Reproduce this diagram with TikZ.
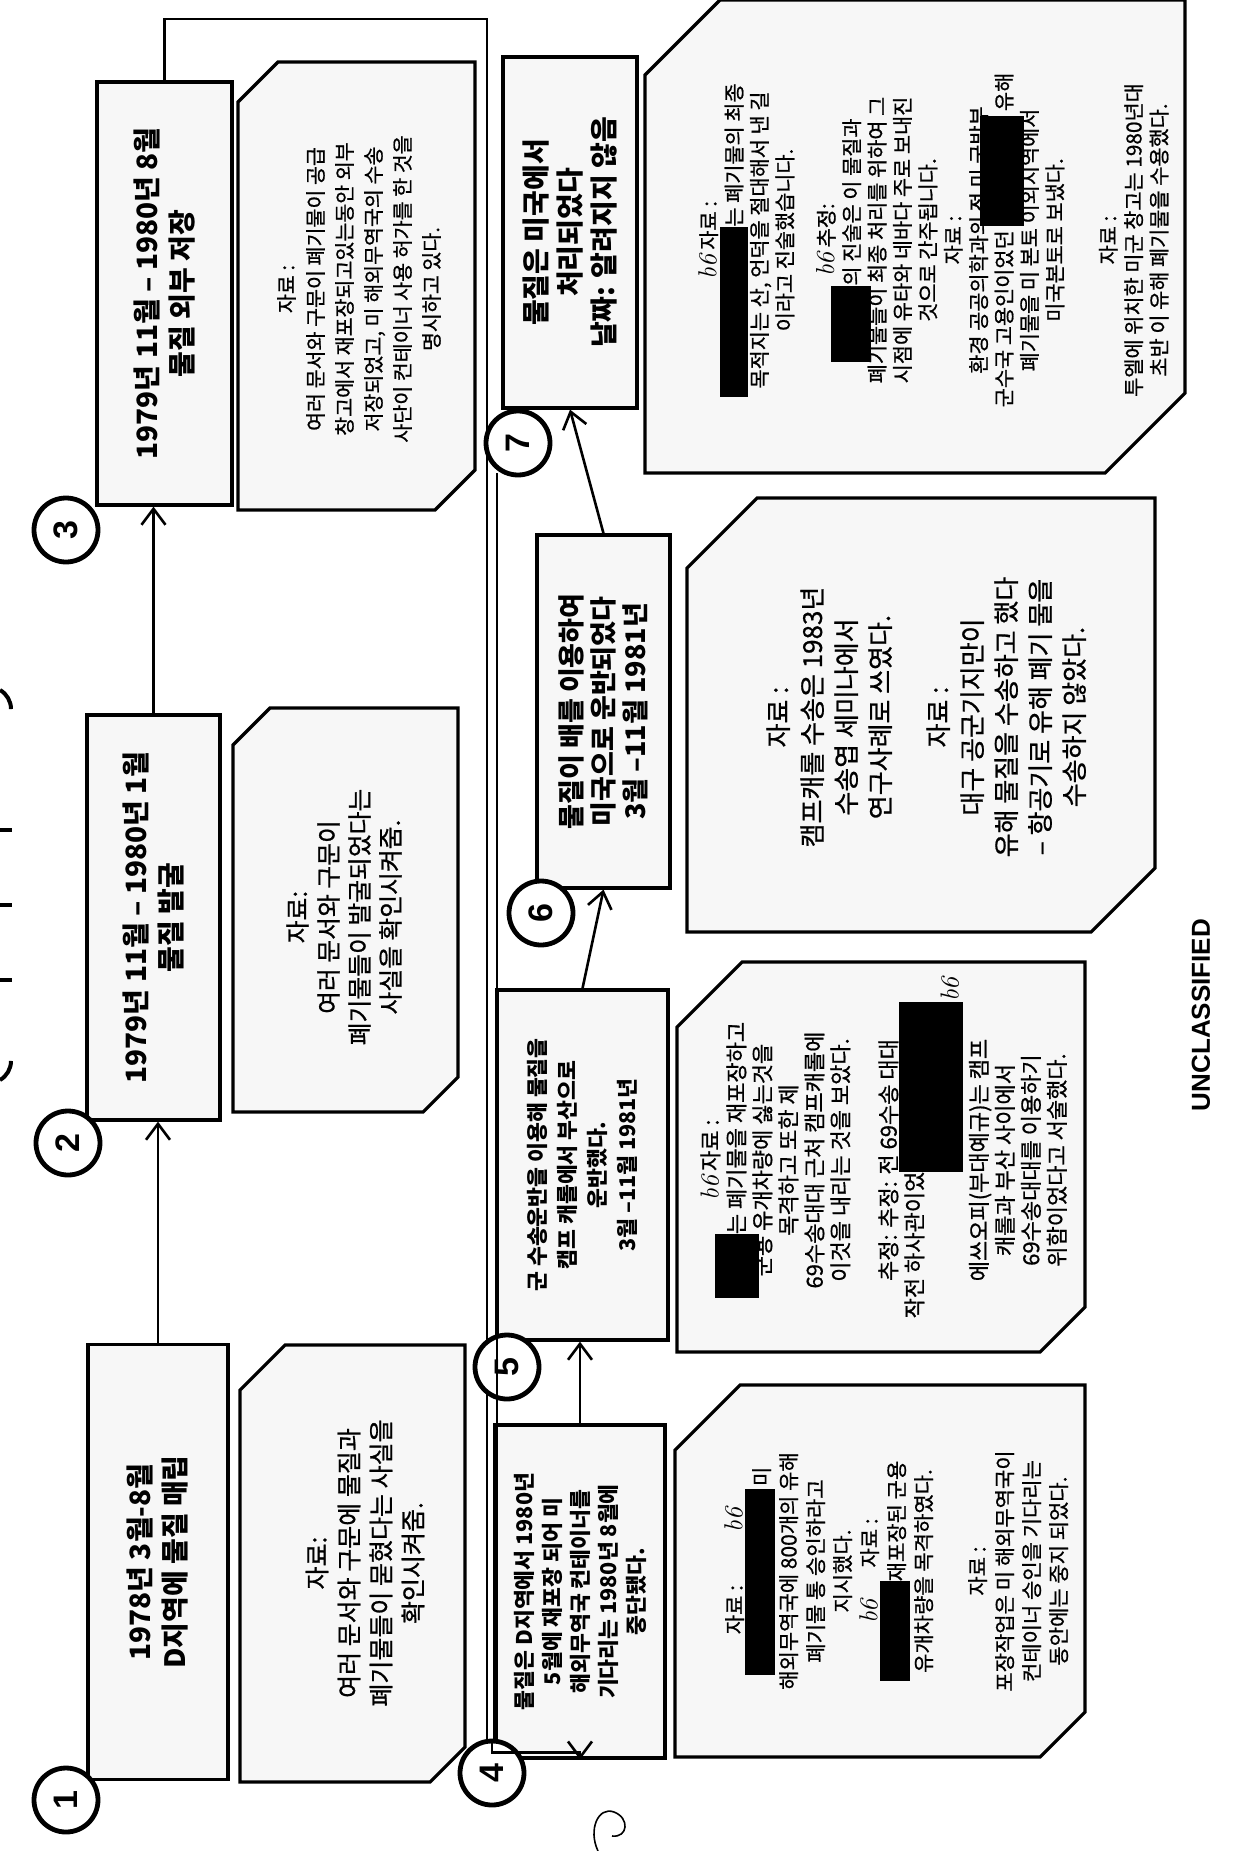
\documentclass[tikz,border=0pt]{standalone}
\usepackage{fontspec}
\newfontfamily\kr{Noto Sans CJK KR}
\newfontfamily\krs{Noto Sans CJK KR}[FakeBold=0.8]
\newfontfamily\arialb{Liberation Sans}
\usetikzlibrary{arrows.meta,calc}
\newcommand{\hw}[1]{{\normalfont\itshape\fontsize{13}{13}\selectfont #1}}
\newcommand{\blot}[3]{\smash{\rule[#1]{#2}{#3}}}
% snipped frame: x1 y1 x2 y2, cut top-left, cut bottom-right
\newcommand{\snipbox}[6]{%
  \filldraw[srcframe] (#1+#5,#2) -- (#3,#2) -- (#3,#4-#6) -- (#3-#6,#4)
    -- (#1,#4) -- (#1,#2+#5) -- cycle;}

\begin{document}
\begin{tikzpicture}[
    x=0.5pt,y=-0.5pt,
    tbox/.style={draw,line width=1.6pt,fill=gray!6,rotate=90,inner sep=2pt,align=center},
    srcframe/.style={draw,line width=1.6pt,fill=gray!6},
    srctext/.style={rotate=90,align=center,inner sep=0pt},
    num/.style={circle,draw,line width=2.4pt,fill=white,minimum size=32pt,inner sep=0pt,
      rotate=90,font=\arialb\bfseries\fontsize{17}{17}\selectfont},
    flow/.style={line width=1.3pt,-{Straight Barb[length=8pt,width=12pt]}},
    link/.style={line width=1.3pt}
  ]
  \fill[white] (0,0) rectangle (1238,1851);
  \useasboundingbox (0,0) rectangle (1238,1851);

  % cut-off title at the page edge
  \draw[line width=2pt] (0,690) arc[start angle=-60,end angle=0,radius=22];
  \draw[line width=2pt] (0,830) -- (12,830);
  \draw[line width=2pt] (0,905) -- (12,905);
  \draw[line width=2pt] (0,980) -- (12,980);
  \draw[line width=2pt] (0,1080) arc[start angle=60,end angle=0,radius=22];

  % timeline boxes
  \node[tbox,minimum width=217.5pt,minimum height=70pt,
    font=\kr\bfseries\fontsize{14}{17.5}\selectfont] (b1) at (158,1562)
    {1978년 3월-8월\\D지역에 물질 매립};
  \node[tbox,minimum width=202.5pt,minimum height=66.5pt,
    font=\kr\bfseries\fontsize{14}{17.5}\selectfont] (b2) at (153.5,917.5)
    {1979년 11월 – 1980년 1월\\물질 발굴};
  \node[tbox,minimum width=211.5pt,minimum height=67.5pt,
    font=\kr\bfseries\fontsize{14}{17.5}\selectfont] (b3) at (164.5,293.5)
    {1979년 11월 – 1980년 8월\\물질 외부 저장};
  \node[tbox,minimum width=166.5pt,minimum height=85pt,
    font=\kr\bfseries\fontsize{10.8}{14}\selectfont] (b4) at (580,1591.5)
    {물질은 D지역에서 1980년\\5월에 재포장 되어 미\\해외무역국 컨테이너를\\기다리는 1980년 8월에\\중단됐다.};
  \node[tbox,minimum width=175pt,minimum height=85.5pt,
    font=\kr\bfseries\fontsize{10.8}{15}\selectfont] (b5) at (582.5,1165)
    {군 수송운반을 이용해 물질을\\캠프 캐롤에서 부산으로\\운반했다.\\3월 –11월 1981년};
  \node[tbox,minimum width=176.5pt,minimum height=66.5pt,
    font=\kr\bfseries\fontsize{13.5}{16}\selectfont] (b6) at (603.5,711.5)
    {물질이 배를 이용하여\\미국으로 운반되었다\\3월 –11월 1981년};
  \node[tbox,minimum width=175.5pt,minimum height=67pt,
    font=\kr\bfseries\fontsize{14}{17}\selectfont] (b7) at (570,232.5)
    {물질은 미국에서\\처리되었다\\날짜: 알려지지 않음};

  % source boxes
  \snipbox{240}{1345}{465}{1782}{45}{35}
  \node[srctext,font=\krs\fontsize{12.5}{16}\selectfont] (t1) at (365,1563)
    {자료:\\여러 문서와 구문에 물질과\\폐기물들이 묻혔다는 사실을\\확인시켜줌.};
  \snipbox{233}{708}{458}{1112}{37}{35}
  \node[srctext,font=\krs\fontsize{12.4}{15.5}\selectfont] (t2) at (344,917)
    {자료:\\여러 문서와 구문이\\폐기물들이 발굴되었다는\\사실을 확인시켜줌.};
  \snipbox{238}{62}{475}{510}{40}{40}
  \node[srctext,font=\krs\fontsize{10.3}{14.5}\selectfont] (t3) at (359,289)
    {자료 :\\여러 문서와 구문이 폐기물이 공급\\창고에서 재포장되고있는동안 외부\\
     저장되었고, 미 해외무역국의 수송\\사단이 컨테이너 사용 허가를 한 것을\\명시하고 있다.};
  \snipbox{675}{1385}{1085}{1757}{65}{45}
  \node[srctext,anchor=north,font=\krs\fontsize{10.5}{13.5}\selectfont] (t4) at (724,1571)
    {자료 :\hspace{2.5em}\hw{b6}\\
     \blot{-3pt}{93pt}{15pt}\,미\\
     해외무역국에 800개의 유해\\
     폐기물 통 승인하라고\\
     지시했다.\\
     \hw{b6}\hspace{1.5em}자료 :\\
     \blot{-3pt}{50pt}{15pt}재포장된 군용\\
     유개차량을 목격하였다.\\[13.5pt]
     자료 :\\
     포장작업은 미 해외무역국이\\
     컨테이너 승인을 기다리는\\
     동안에는 중지 되었다.};
  \snipbox{677}{962}{1085}{1352}{65}{45}
  \node[srctext,anchor=north,font=\krs\fontsize{11}{13}\selectfont] (t5) at (700,1160)
    {\hw{b6} 자료 :\\
     \blot{-7pt}{32pt}{22pt}는 폐기물을 재포장하고\\
     군용 유개차량에 싫는것을\\
     목격하고 또한 제\\
     69수송대대 근처 캠프캐롤에\\
     이것을 내리는 것을 보았다.\\[11pt]
     추정: 추정: 전 69수송 대대\\
     작전 하사관이었\blot{-20pt}{85pt}{32pt}\rlap{\raisebox{-18pt}{\hw{b6}}}\\
     \mbox{}\\
     에쓰오피(부대예규)는 캠프\\
     캐롤과 부산 사이에서\\
     69수송대대를 이용하기\\
     위함이었다고 서술했다.};
  \snipbox{687}{498}{1155}{932}{70}{64}
  \node[srctext,anchor=north,font=\krs\fontsize{13}{17}\selectfont] (t6) at (766,717)
    {자료 :\\캠프캐롤 수송은 1983년\\수송엽 세미나에서\\연구사례로 쓰였다.\\[12pt]
     자료 :\\대구 공군기지만이\\유해 물질을 수송하고 했다\\– 항공기로 유해 폐기 물을\\수송하지 않았다.};
  \snipbox{645}{0}{1185}{473}{75}{80}
  \node[srctext,anchor=north,font=\krs\fontsize{10.4}{12.7}\selectfont] (t7) at (698,240)
    {\hw{b6} 자료 :\\
     \blot{-3pt}{85pt}{14pt}는 폐기물의 최종\\
     목적지는 산, 언덕을 절대해서 낸 길\\
     이라고 진술했습니다.\\[8pt]
     \hw{b6} 추정:\\
     \blot{-6pt}{38pt}{20pt}의 진술은 이 물질과\\
     폐기물들이 최종 처리를 위하여 그\\
     시점에 유타와 네바다 주로 보내진\\
     것으로 간주됩니다.\\
     자료 :\\
     환경 공공의학과의 전 미 국방부\\
     군수국 고용인이었던 \blot{-6pt}{55pt}{22pt} 유해\\
     폐기물을 미 본토 이외지역에서\\
     미국본토로 보냈다.\\[14pt]
     자료 :\\
     투엘에 위치한 미군 창고는 1980년대\\
     초반 이 유해 폐기물을 수용했다.};

  \node[rotate=90,font=\arialb\bfseries\fontsize{13}{13}\selectfont] (unc) at (1201,1015)
    {UNCLASSIFIED};

  % connectors
  \coordinate (turn) at (487,19);
  \draw[flow] (b1.east) -- (b1.east |- b2.west);
  \draw[flow] (b2.east) -- (b2.east |- b3.west);
  \draw[link] (b3.east) |- (turn) -- (turn |- 0,1740);
  \draw[flow] (b4.east) -- (b4.east |- b5.west);
  \draw[flow] (b5.east) -- (b6.west);
  \draw[flow] (b6.east) -- (b7.west);

  % numbered circles
  \node[num] (c1) at (66,1800) {1};
  \node[num] (c2) at (68,1143) {2};
  \node[num] (c3) at (66,530) {3};
  \node[num] (c4) at (492,1773) {4};
  \node[num] (c5) at (507,1367) {5};
  \node[num] (c6) at (541,913) {6};
  \node[num] (c7) at (518,443) {7};

  \draw[link] ($(c7.center)+(-21,30)$) -- ($(c4.center)+(5,-32)$);
  \draw[flow] (c4.east) -- ++(0,14) -| (b4.west);

  % pen mark
  \draw[line width=0.8pt] (598,1851) .. controls (588,1830) and (598,1806) .. (614,1812)
    .. controls (630,1818) and (628,1838) .. (612,1836);
\end{tikzpicture}
\end{document}
